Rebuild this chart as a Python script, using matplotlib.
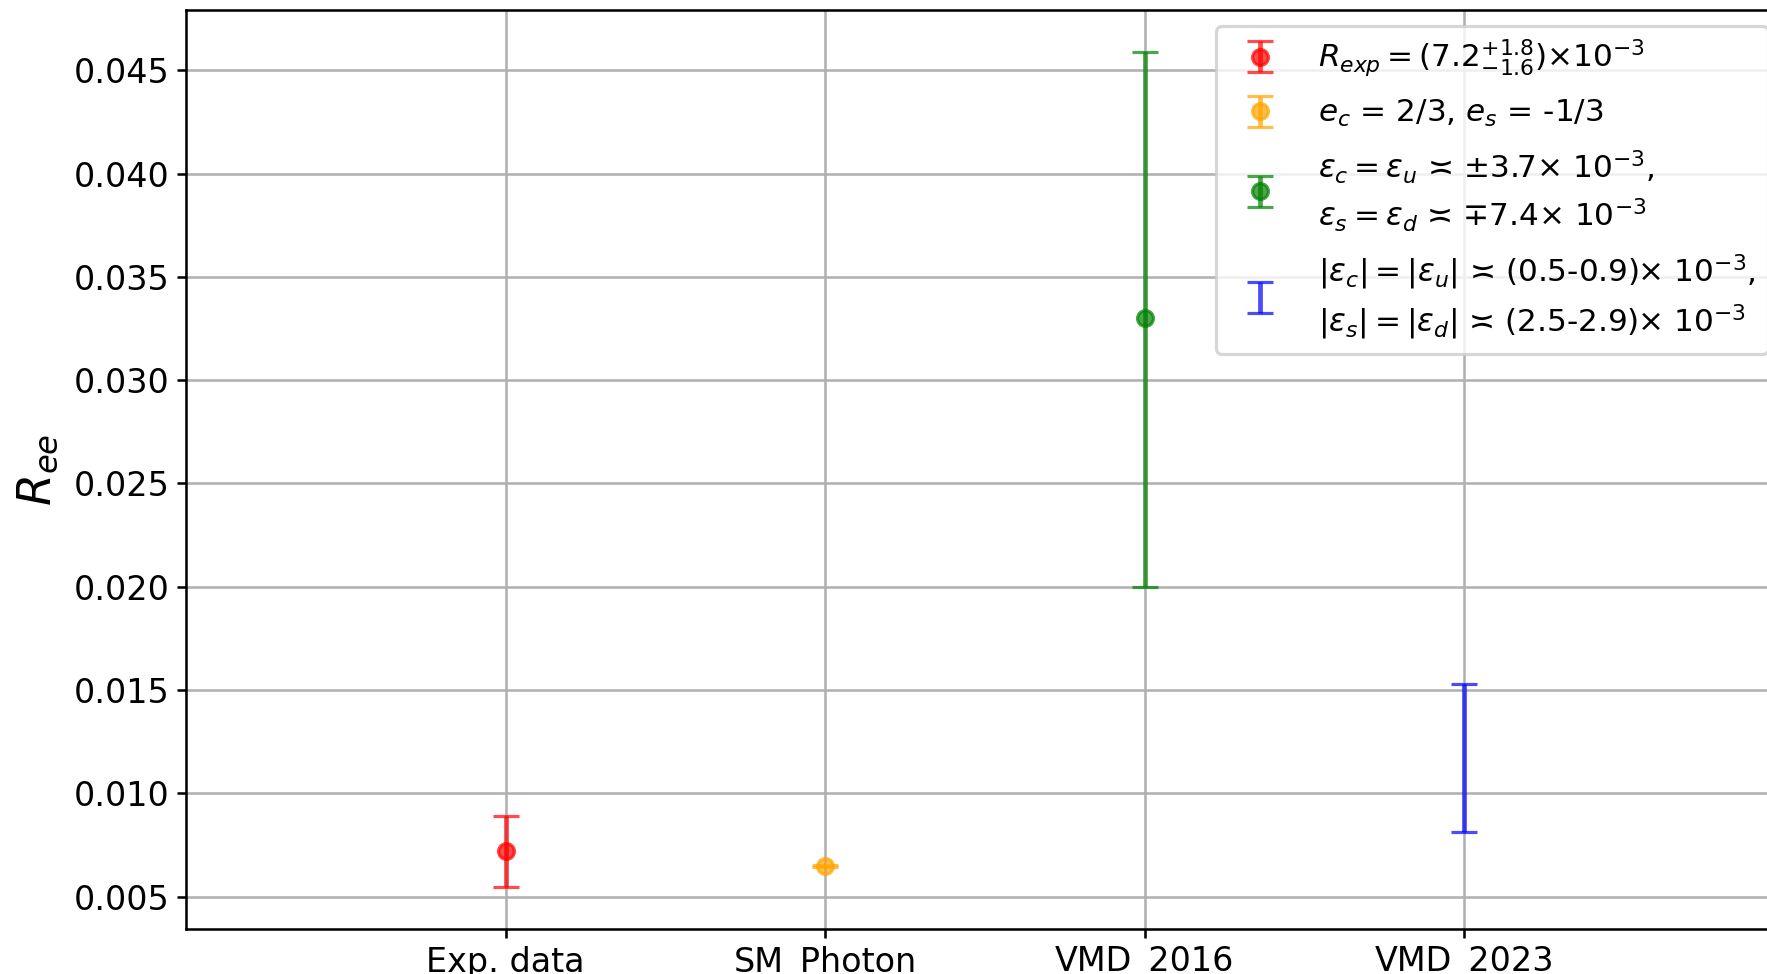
import matplotlib
matplotlib.use('Agg')
import matplotlib.pyplot as plt

# categories and values
labels = ['Exp. data', 'SM_Photon', 'VMD_2016', 'VMD_2023']
centers = [0.0072, 0.00648, 0.033, 0.0117]
err_low = [0.00175, 0.00003, 0.013, 0.0036]
err_high = [0.0017, 0.00003, 0.0129, 0.0036]
colors = ['red', 'orange', 'green', 'blue']
fmts = ['o', 'o', 'o', 'none']
legend_labels = [
    r'$R_{exp} = (7.2^{+1.8}_{-1.6})$×$10^{-3}$',
    r'$e_c$ = 2/3, $e_s$ = -1/3',
    r'$\varepsilon_c = \varepsilon_u$ ≍ $\pm$3.7× $10^{-3}$,' + '\n'
    + r'$\varepsilon_s = \varepsilon_d$ ≍ $\mp$7.4× $10^{-3}$',
    r'$|\varepsilon_c| = |\varepsilon_u|$ ≍ (0.5-0.9)× $10^{-3}$,' + '\n'
    + r'$|\varepsilon_s| = |\varepsilon_d|$ ≍ (2.5-2.9)× $10^{-3}$',
]

plt.rcParams['font.size'] = 10.5
plt.rcParams['xtick.major.size'] = 2.8
plt.rcParams['ytick.major.size'] = 2.8
plt.rcParams['xtick.major.pad'] = 2.5
plt.rcParams['ytick.major.pad'] = 2.5

dpi = 229
fig = plt.figure(figsize=(1767 / dpi, 974 / dpi), dpi=dpi)
ax = fig.add_axes([186 / 1767, 45 / 974, 1597.5 / 1767, 919 / 974])

for i in range(len(labels)):
    ax.errorbar(i, centers[i], yerr=[[err_low[i]], [err_high[i]]],
                fmt=fmts[i], color=colors[i], ecolor=colors[i],
                markersize=5, capsize=4, alpha=0.7, label=legend_labels[i])

ax.set_xticks(range(len(labels)))
ax.set_xticklabels(labels)
ax.set_xlim(-1, 4)
ax.set_ylabel(r'$R_{ee}$', fontsize=14.5)
ax.grid(True)
leg = ax.legend(loc='upper right', fontsize=9.8, handletextpad=0.87,
                labelspacing=0.6)
for t in leg.get_texts():
    t.set_linespacing(1.35)

fig.savefig('out.png', dpi=dpi)
